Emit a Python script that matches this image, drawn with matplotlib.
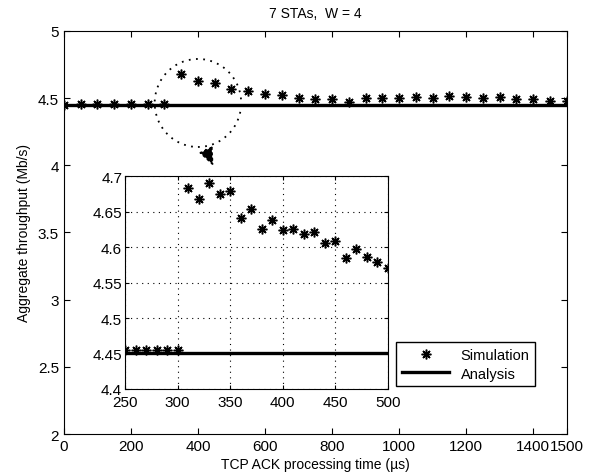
import numpy as np
import matplotlib
matplotlib.use("Agg")
import matplotlib.pyplot as plt
from matplotlib.patches import Ellipse

plt.rcParams['font.family'] = ['Liberation Sans', 'DejaVu Sans']
plt.rcParams['font.size'] = 10

# Main plot data (TCP ACK processing time in us, throughput in Mb/s)
t_main = [0, 50, 100, 150, 200, 250, 300, 350, 400, 450, 500, 550, 600, 650,
          700, 750, 800, 850, 900, 950, 1000, 1050, 1100, 1150, 1200, 1250,
          1300, 1350, 1400, 1450, 1500]
sim_main = [4.45, 4.455, 4.455, 4.46, 4.46, 4.455, 4.455, 4.679, 4.625, 4.609,
            4.571, 4.55, 4.53, 4.52, 4.50, 4.49, 4.49, 4.47, 4.50, 4.50, 4.50,
            4.51, 4.50, 4.518, 4.506, 4.50, 4.51, 4.494, 4.494, 4.476, 4.48]
t_ana = [0, 1500]
ana = [4.45, 4.45]

# Zoomed detail
t_zoom = [250, 260, 270, 280, 290, 300, 310, 320, 330, 340, 350, 360, 370,
          380, 390, 400, 410, 420, 430, 440, 450, 460, 470, 480, 490, 500]
sim_zoom = [4.455, 4.455, 4.455, 4.455, 4.455, 4.455, 4.683, 4.667, 4.690,
            4.675, 4.679, 4.641, 4.653, 4.625, 4.6375, 4.6245, 4.626, 4.618,
            4.621, 4.605, 4.609, 4.585, 4.597, 4.586, 4.579, 4.571]

main_xticks = [0, 200, 400, 600, 800, 1000, 1200, 1400, 1500]
main_yticks = [2, 2.5, 3, 3.5, 4, 4.5, 5]
zoom_xticks = [250, 300, 350, 400, 450, 500]
zoom_yticks = [4.4, 4.45, 4.5, 4.55, 4.6, 4.65, 4.7]

star = (8, 2, 0)

fig = plt.figure(figsize=(5.91, 4.77), dpi=100)
ax = fig.add_axes([0.108, 0.088, 0.851, 0.845])
ax.plot(t_main, sim_main, linestyle='none', marker=star, color='k',
        markersize=7, markeredgewidth=1.1, label='Simulation')
ax.plot(t_ana, ana, color='k', linewidth=2.4, label='Analysis')
ax.set_xlim(0, 1500)
ax.set_ylim(2, 5)
ax.set_xticks(main_xticks)
ax.set_xticklabels([str(v) for v in main_xticks])
ax.set_yticks(main_yticks)
ax.set_yticklabels(['2', '2.5', '3', '3.5', '4', '4.5', '5'])
ax.tick_params(direction='in', top=True, right=True, length=4, labelsize=11)
ax.set_xlabel('TCP ACK processing time (µs)', fontsize=10, labelpad=3)
ax.set_ylabel('Aggregate throughput (Mb/s)', fontsize=10, labelpad=5)
ax.set_title('7 STAs,  W = 4', fontsize=10, pad=10)

# dotted circle around the transient and arrow to the zoom
ax.add_patch(Ellipse((400, 4.464), 258, 0.655, fill=False, edgecolor='k',
                     linestyle=(0, (1, 3)), linewidth=1.3))
ax.annotate('', xy=(450, 3.975), xytext=(420, 4.135),
            arrowprops=dict(arrowstyle='-|>,head_width=0.45,head_length=1.1',
                            linestyle=(0, (1, 2)), color='k', lw=1.3))

leg = ax.legend(loc='lower right', bbox_to_anchor=(0.952, 0.1),
                fancybox=False, edgecolor='k', framealpha=1, fontsize=10.5,
                handlelength=3.2, borderpad=0.4, labelspacing=0.3)
leg.get_frame().set_linewidth(1.0)

# inset
axi = fig.add_axes([0.2115, 0.1824, 0.445, 0.4465])
axi.plot(t_zoom, sim_zoom, linestyle='none', marker=star, color='k',
         markersize=7, markeredgewidth=1.1)
axi.plot(t_ana, ana, color='k', linewidth=2.4)
axi.set_xlim(250, 500)
axi.set_ylim(4.4, 4.7)
axi.set_xticks(zoom_xticks)
axi.set_yticks(zoom_yticks)
axi.set_yticklabels(['4.4', '4.45', '4.5', '4.55', '4.6', '4.65', '4.7'])
axi.grid(True, color='k', linestyle=(0, (1, 4)), linewidth=0.8)
axi.tick_params(direction='in', top=True, right=True, length=3,
                labelsize=11)
axi.tick_params(axis='x', pad=4)
axi.tick_params(axis='y', pad=2)

fig.savefig('out.png', dpi=100)
